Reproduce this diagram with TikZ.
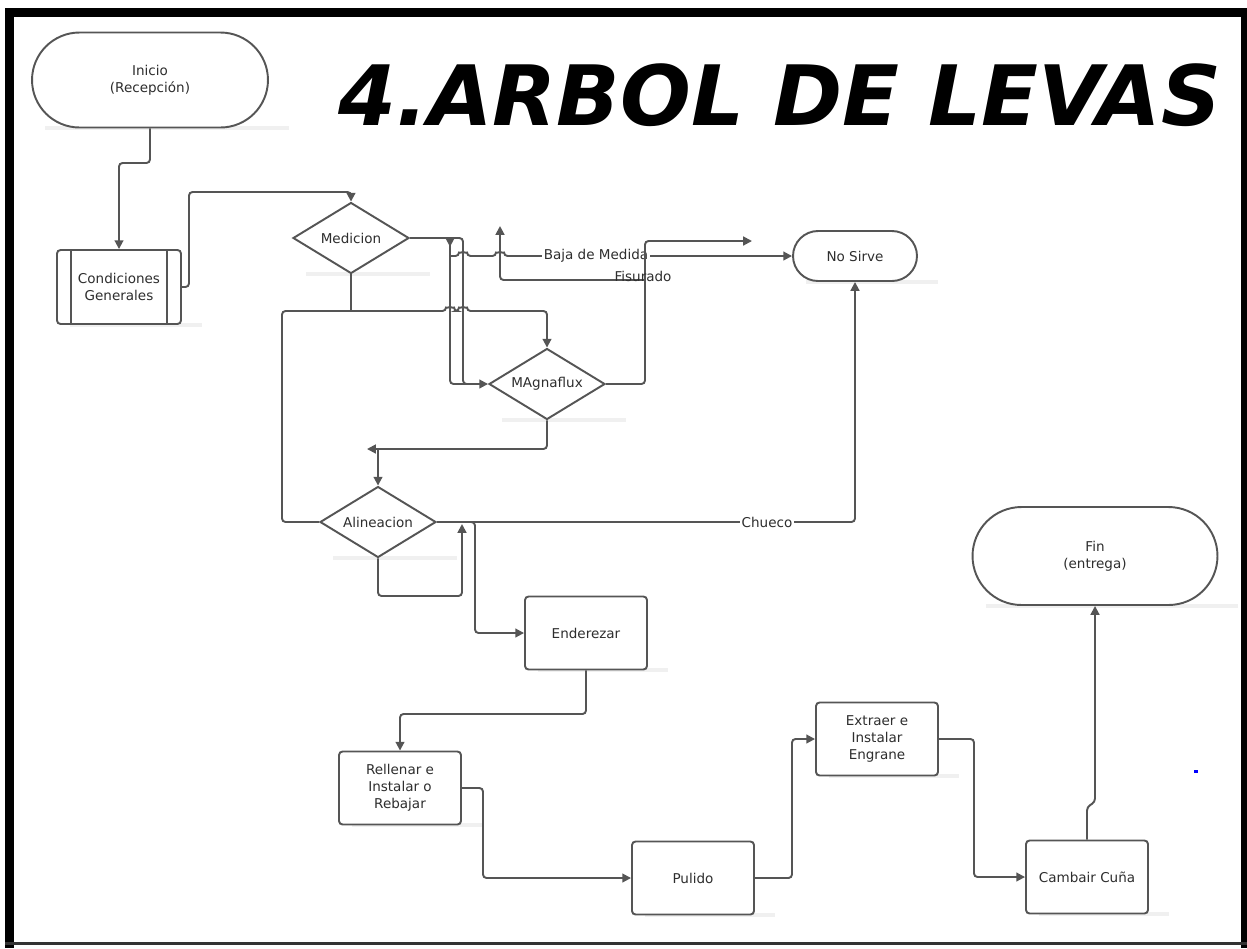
\documentclass[tikz,border=0pt]{standalone}
\usepackage{fontspec}
\setmainfont{DejaVu Sans}
\usetikzlibrary{shapes.geometric,arrows.meta,calc,backgrounds}

\definecolor{linegray}{HTML}{555555}
\definecolor{textgray}{HTML}{2E2E2E}
\definecolor{shadegray}{HTML}{F0F0F0}

\tikzset{
	every node/.style={font=\fontsize{7.7}{9.6}\selectfont, text=textgray, align=center},
	box/.style={draw=linegray, line width=1.1pt, fill=white, rounded corners=2pt,
		minimum width=2.44cm, minimum height=1.46cm, inner sep=0pt},
	term/.style={draw=linegray, line width=1.1pt, fill=white, rounded corners=#1, inner sep=0pt},
	decision/.style={draw=linegray, line width=1.1pt, fill=white, diamond, aspect=1.65,
		minimum width=2.32cm, minimum height=1.42cm, inner sep=0pt},
	conn/.style={draw=linegray, line width=1.1pt, rounded corners=2pt},
	tip/.style={-{Triangle[length=5pt,width=5pt]}},
	lbl/.style={fill=white, inner sep=1pt}
}

\begin{document}
\begin{tikzpicture}[x=0.02cm, y=-0.02cm]
	\useasboundingbox (0,0) rectangle (1247,948);
	% Frame
	\fill[black] (5,8) rectangle (1247,17);
	\fill[black] (5,8) rectangle (14,948);
	\fill[black] (1241,8) rectangle (1247,948);
	\fill[black!80] (5,942) rectangle (1247,945);

	% Title
	\node[font=\fontsize{47.4}{50}\selectfont\bfseries\itshape, text=black, anchor=base] (title) at (780,125) {4.ARBOL DE LEVAS};

	% Shapes
	\node[term=0.95cm, minimum width=4.72cm, minimum height=1.9cm] (ini) at (150,80) {Inicio\\(Recepción)};
	\node[box, minimum width=2.48cm, minimum height=1.48cm] (cond) at (119,287) {Condiciones\\Generales};
	\draw[linegray, line width=1.1pt] ($(cond.north west)+(15,0)$) -- ($(cond.south west)+(15,0)$);
	\draw[linegray, line width=1.1pt] ($(cond.north east)+(-15,0)$) -- ($(cond.south east)+(-15,0)$);
	\node[decision] (med) at (351,238) {Medicion};
	\node[term=0.5cm, minimum width=2.48cm, minimum height=1.0cm] (nos) at (855,256) {No Sirve};
	\node[decision] (mag) at (547,384) {MAgnaflux};
	\node[decision] (ali) at (378,522) {Alineacion};
	\node[box] (end) at (586,633) {Enderezar};
	\node[box] (rell) at (400,788) {Rellenar e\\Instalar o\\Rebajar};
	\node[box] (pul) at (693,878) {Pulido};
	\node[box] (ext) at (877,739) {Extraer e\\Instalar\\Engrane};
	\node[box] (cam) at (1087,877) {Cambair Cuña};
	\node[term=0.98cm, minimum width=4.9cm, minimum height=1.96cm] (fin) at (1095,556) {Fin\\(entrega)};

	% Shadows
	\begin{scope}[on background layer]
		\foreach \n in {ini,cond,med,nos,mag,ali,end,rell,pul,ext,cam,fin}
			\fill[shadegray] ($(\n.west |- \n.south)+(14,-2)$) rectangle ($(\n.east |- \n.south)+(20,2)$);
	\end{scope}

	% Connectors
	\draw[conn,tip] (ini.south) -- (150,163) -- (119,163) -- (cond.north);
	\draw[conn,tip] (cond.east) -- (189,287) -- (189,192) -- (351,192) -- (med.north);
	\draw[conn,tip] (med.east) -- (463,238) -- (463,384) -- (mag.west);
	\draw[conn,{Triangle[reversed,length=5pt,width=5pt]}-] (450,238) -- (450,384) -- (475,384);
	\draw[conn,tip] (450,256) -- (459,256) arc[start angle=180, end angle=0, radius=0.08cm]
		-- (496,256) arc[start angle=180, end angle=0, radius=0.08cm] -- (nos.west);
	\node[lbl] (baja) at (596,256) {Baja de Medida};
	\draw[conn,tip] (mag.east) -- (645,384) -- (645,241) -- (752,241);
	\draw[conn,tip] (645,280) -- (500,280) -- (500,226);
	\node (fis) at (643,276) {Fisurado};
	\draw[conn] (med.south) -- (351,311);
	\draw[conn,tip] (ali.west) -- (282,522) -- (282,311) -- (446,311) arc[start angle=180, end angle=0, radius=0.08cm]
		-- (459,311) arc[start angle=180, end angle=0, radius=0.08cm] -- (547,311) -- (mag.north);
	\draw[conn,tip] (mag.south) -- (547,449) -- (367,449);
	\draw[conn,tip] (378,449) -- (ali.north);
	\draw[conn,tip] (ali.east) -- (855,522) -- (nos.south);
	\node[lbl] (chueco) at (767,522) {Chueco};
	\draw[conn,tip] (ali.south) -- (378,596) -- (462,596) -- (462,524);
	\draw[conn,tip] (470,522) -- (475,522) -- (475,633) -- (end.west);
	\draw[conn,tip] (end.south) -- (586,714) -- (400,714) -- (rell.north);
	\draw[conn,tip] (rell.east) -- (483,788) -- (483,878) -- (pul.west);
	\draw[conn,tip] (pul.east) -- (792,878) -- (792,739) -- (ext.west);
	\draw[conn,tip] (ext.east) -- (974,739) -- (974,877) -- (cam.west);
	\draw[conn,tip] (cam.north) -- (1087,807) -- (1095,802) -- (fin.south);

	% stray mark
	\fill[blue] (1194,770) rectangle (1198,773);
\end{tikzpicture}
\end{document}
